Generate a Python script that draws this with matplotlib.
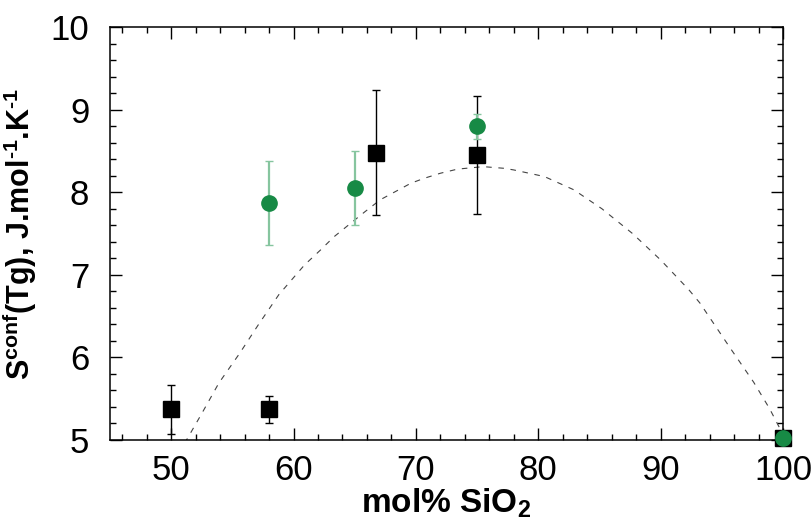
import matplotlib
matplotlib.use("Agg")
import matplotlib.pyplot as plt
from matplotlib.ticker import MultipleLocator

plt.rcParams['font.family'] = ['Liberation Sans', 'DejaVu Sans']
plt.rcParams['mathtext.default'] = 'regular'

# black squares
sq_x = [50, 58, 66.7, 75, 100]
sq_y = [5.37, 5.37, 8.48, 8.45, 5.02]
sq_err = [0.30, 0.16, 0.76, 0.71, 0.0]

# green circles
gr_x = [58, 65, 75, 100]
gr_y = [7.87, 8.05, 8.80, 5.02]
gr_err = [0.51, 0.45, 0.15, 0.0]

# dashed trend curve
fit_x = [51.1, 51.8, 52.5, 53.9, 55.6, 57.1, 58.8, 60.9, 62.2, 63.3, 65.8, 67.1,
         69.6, 70.7, 72.0, 73.4, 75.5, 77.2, 78.0, 80.5, 82.9, 85.2, 87.7, 90.0,
         92.3, 93.2, 95.7, 97.6, 98.9, 99.6, 100.0]
fit_y = [4.96, 5.14, 5.32, 5.69, 6.05, 6.39, 6.76, 7.12, 7.30, 7.46, 7.76, 7.91,
         8.11, 8.17, 8.23, 8.28, 8.31, 8.29, 8.27, 8.19, 8.03, 7.80, 7.50, 7.18,
         6.82, 6.66, 6.11, 5.70, 5.38, 5.18, 5.07]

green = '#178a45'
green_light = '#86c59f'

fig = plt.figure(figsize=(8.11, 5.31), dpi=100)
ax = fig.add_axes([0.1356, 0.1714, 0.8299, 0.7776])

ax.plot(fit_x, fit_y, color='#444444', lw=0.8, dashes=(5, 6))

ax.errorbar(sq_x, sq_y, yerr=sq_err, fmt='s', color='black', ms=11,
            ecolor='black', elinewidth=1.0, capsize=3, capthick=1.0,
            clip_on=False, zorder=3)

line, caps, bars = ax.errorbar(gr_x, gr_y, yerr=gr_err, fmt='o', color=green,
                               ms=11, ecolor=green_light, elinewidth=1.6,
                               capsize=3, capthick=1.0, clip_on=False, zorder=4)
for c in caps:
    c.set_color(green)

ax.set_xlim(45, 100)
ax.set_ylim(5, 10)
ax.xaxis.set_major_locator(MultipleLocator(10))
ax.xaxis.set_minor_locator(MultipleLocator(2))
ax.yaxis.set_major_locator(MultipleLocator(1))
ax.yaxis.set_minor_locator(MultipleLocator(0.2))
ax.tick_params(which='both', direction='in', top=True, right=True,
               labelsize=25, width=1.0)
ax.tick_params(axis='x', pad=10)
ax.tick_params(axis='y', pad=15)
ax.tick_params(which='major', length=8.5)
ax.tick_params(which='minor', length=4.3)
for s in ax.spines.values():
    s.set_linewidth(1.1)

ax.set_xlabel('mol% SiO$_2$', fontsize=24, fontweight='bold', labelpad=0)
ax.set_ylabel('S$^{conf}$(Tg), J.mol$^{\u2010 1}$.K$^{\u2010 1}$', fontsize=22,
              fontweight='bold', labelpad=8)

fig.savefig('out.png', dpi=100)
